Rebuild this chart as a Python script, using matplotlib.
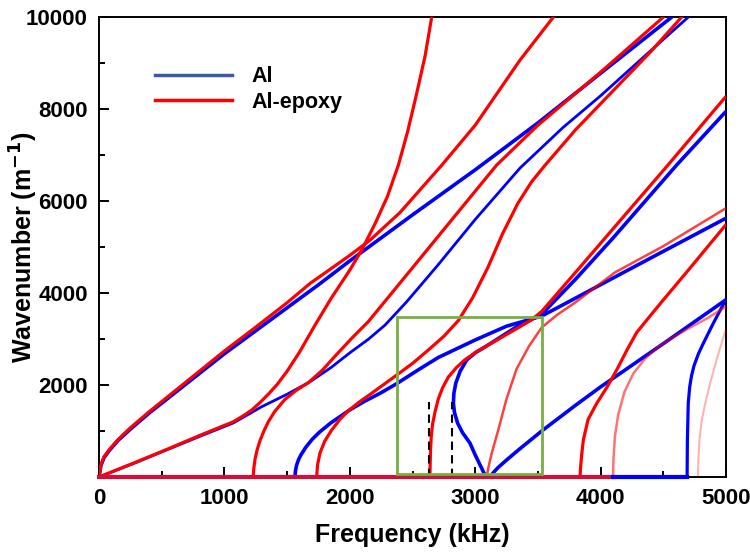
import matplotlib.pyplot as plt
from matplotlib.patches import Rectangle

# ---- data: (frequency kHz, wavenumber 1/m) ----
# Al (blue)
al_a0_f = [0, 15, 40, 80, 150, 250, 400, 600, 800, 1000, 1250, 1500, 1750, 2000, 2500, 3000, 3500, 4000, 4567]
al_a0_k = [0, 250, 420, 570, 790, 1040, 1390, 1820, 2250, 2680, 3180, 3680, 4180, 4700, 5700, 6680, 7700, 8780, 10000]

al_s0_f = [0, 300, 540, 800, 1070, 1297, 1500, 1683, 1850, 2000, 2150, 2281, 2450, 2700, 3000, 3357, 3700, 4000, 4350, 4699]
al_s0_k = [0, 320, 590, 880, 1174, 1528, 1800, 2072, 2380, 2700, 3000, 3304, 3800, 4600, 5600, 6717, 7600, 8290, 9150, 10000]

al_m2_f = [1563, 1566, 1575, 1590, 1610, 1650, 1700, 1760, 1850, 2000, 2120, 2241, 2374, 2540, 2706, 3000, 3250, 3530, 3800, 4115, 4500, 4997]
al_m2_k = [0, 120, 250, 370, 480, 650, 820, 980, 1180, 1460, 1650, 1820, 2030, 2320, 2600, 2980, 3280, 3500, 3890, 4350, 4907, 5624]

al_nose_f = [3085, 3050, 3000, 2958, 2900, 2860, 2835, 2826, 2830, 2845, 2880, 2932, 3000, 3091, 3200, 3331, 3430, 3530, 3800, 4100, 4606, 4997]
al_nose_k = [0, 200, 480, 739, 960, 1170, 1400, 1600, 1820, 2040, 2300, 2544, 2700, 2850, 3040, 3268, 3400, 3540, 4300, 5200, 6783, 7942]

al_m4_f = [3118, 3140, 3180, 3250, 3350, 3530, 3800, 4000, 4500, 4997]
al_m4_k = [0, 80, 200, 370, 600, 1000, 1560, 1960, 2900, 3850]

al_m5_f = [4690, 4692, 4699, 4710, 4725, 4745, 4780, 4819, 4900, 4997]
al_m5_k = [0, 800, 1602, 1950, 2200, 2420, 2680, 2907, 3350, 3848]

al_zero_f = [4099, 4690]
al_zero_k = [0, 0]

# Al-epoxy (red)
ep_a0_f = [0, 15, 40, 80, 150, 250, 400, 600, 800, 1000, 1250, 1500, 1683, 1850, 2000, 2161, 2400, 2733, 3000, 3357, 3623]
ep_a0_k = [0, 260, 440, 590, 810, 1070, 1420, 1860, 2300, 2740, 3260, 3790, 4210, 4530, 4820, 5150, 5750, 6780, 7650, 9065, 10000]

ep_s0_f = [0, 300, 540, 800, 1070, 1150, 1220, 1284, 1350, 1420, 1500, 1600, 1722, 1850, 2000, 2095, 2200, 2300, 2387, 2460, 2530, 2600, 2653]
ep_s0_k = [0, 330, 600, 900, 1200, 1330, 1460, 1620, 1800, 2010, 2300, 2720, 3300, 3880, 4500, 4935, 5500, 6100, 6780, 7500, 8300, 9150, 10000]

ep_m2_f = [1230, 1235, 1245, 1262, 1285, 1315, 1350, 1400, 1480, 1570, 1669, 1780, 1900, 2020, 2148, 2500, 2800, 3171, 3500, 4020, 4500]
ep_m2_k = [0, 200, 400, 600, 800, 1000, 1200, 1420, 1680, 1880, 2050, 2320, 2680, 3030, 3380, 4550, 5550, 6783, 7650, 8850, 10000]

ep_m3_f = [1736, 1742, 1762, 1800, 1855, 1920, 1988, 2080, 2174, 2374, 2500, 2626, 2750, 2865, 2980, 3100, 3220, 3340, 3450, 3557, 3800, 4100, 4400, 4646]
ep_m3_k = [0, 250, 520, 780, 1020, 1250, 1440, 1640, 1820, 2217, 2470, 2761, 3060, 3400, 3900, 4550, 5300, 5950, 6420, 6780, 7550, 8400, 9250, 10000]

ep_m4_f = [2639, 2641, 2644, 2650, 2660, 2680, 2706, 2740, 2785, 2850, 2918, 3020, 3131, 3250, 3357, 3450, 3530, 3800, 4100, 4537, 4997]
ep_m4_k = [0, 300, 600, 900, 1150, 1420, 1700, 1940, 2170, 2380, 2550, 2740, 2910, 3100, 3268, 3420, 3600, 4450, 5400, 6783, 8268]

ep_m5_f = [3091, 3105, 3130, 3184, 3250, 3330, 3430, 3530, 3650, 3800, 4115, 4500, 4997]
ep_m5_k = [0, 200, 500, 1022, 1700, 2350, 2850, 3250, 3520, 3800, 4450, 5020, 5841]

ep_m6_f = [3836, 3840, 3848, 3862, 3900, 3969, 4050, 4128, 4210, 4287, 4400, 4500, 4700, 4997]
ep_m6_k = [0, 200, 450, 800, 1250, 1602, 1950, 2326, 2760, 3140, 3520, 3850, 4500, 5480]

ep_m7_f = [4099, 4103, 4115, 4140, 4190, 4261, 4350, 4450, 4553, 4700, 4850, 4997]
ep_m7_k = [0, 400, 900, 1350, 1850, 2250, 2560, 2810, 3000, 3230, 3450, 3702]

ep_m8_f = [4776, 4780, 4790, 4805, 4830, 4870, 4930, 4997]
ep_m8_k = [0, 400, 850, 1200, 1550, 2000, 2600, 3196]

ep_zero_f = [0, 4099]
ep_zero_k = [0, 0]

# markers on the plot
cutoff_lines_f = [2631, 2818]
cutoff_lines_top = 1640
box_f = (2376, 3530)
box_k = (60, 3480)

# ---- style ----
BLUE = "#0000FF"
RED = "#FF0000"
plt.rcParams["font.family"] = ["Liberation Sans", "DejaVu Sans"]
plt.rcParams["font.weight"] = "bold"
plt.rcParams["mathtext.default"] = "bf"

fig = plt.figure(figsize=(7.5, 5.53), dpi=100)
ax = fig.add_axes([0.132, 0.1374, 0.836, 0.8316])

lw = 2.3
for f, k, w in [(al_a0_f, al_a0_k, 2.6), (al_s0_f, al_s0_k, 2.0), (al_m2_f, al_m2_k, 2.6),
                (al_nose_f, al_nose_k, 2.6), (al_m4_f, al_m4_k, 2.6), (al_m5_f, al_m5_k, 2.3)]:
    ax.plot(f, k, color=BLUE, lw=w, solid_capstyle="round", solid_joinstyle="round", zorder=3)

for f, k in [(ep_a0_f, ep_a0_k), (ep_s0_f, ep_s0_k), (ep_m2_f, ep_m2_k),
             (ep_m3_f, ep_m3_k), (ep_m4_f, ep_m4_k), (ep_m6_f, ep_m6_k)]:
    ax.plot(f, k, color=RED, lw=lw, solid_capstyle="round", solid_joinstyle="round", zorder=4)
ax.plot(ep_m5_f, ep_m5_k, color=RED, lw=1.8, alpha=0.75, solid_joinstyle="round", zorder=4)
ax.plot(ep_m7_f, ep_m7_k, color=RED, lw=1.8, alpha=0.55, solid_joinstyle="round", zorder=4)
ax.plot(ep_m8_f, ep_m8_k, color=RED, lw=1.5, alpha=0.3, solid_joinstyle="round", zorder=4)

# branches lying on k = 0
ax.plot(ep_zero_f, ep_zero_k, color="#D0103A", lw=3, clip_on=False, zorder=6)
ax.plot(al_zero_f, al_zero_k, color=BLUE, lw=3, clip_on=False, zorder=6)

for fc in cutoff_lines_f:
    ax.plot([fc, fc], [0, cutoff_lines_top], color="black", lw=1.5,
            ls=(0, (4, 2.5)), zorder=5)

ax.add_patch(Rectangle((box_f[0], box_k[0]), box_f[1] - box_f[0], box_k[1] - box_k[0],
                       fill=False, edgecolor="#76B043", lw=2, zorder=7))

# legend
h_al, = ax.plot([], [], color="#3A5BA8", lw=2.5, label="Al")
h_ep, = ax.plot([], [], color=RED, lw=2.5, label="Al-epoxy")
ax.legend(handles=[h_al, h_ep], loc="upper left", bbox_to_anchor=(0.058, 0.935),
          frameon=False, handlelength=3.6, handletextpad=0.9,
          labelspacing=0.2, prop={"weight": "bold", "size": 15.5})

ax.set_xlim(0, 5000)
ax.set_ylim(0, 10000)
ax.set_xticks([0, 1000, 2000, 3000, 4000, 5000])
ax.set_xticks([500, 1500, 2500, 3500, 4500], minor=True)
ax.set_yticks([2000, 4000, 6000, 8000, 10000])
ax.set_yticks([1000, 3000, 5000, 7000, 9000], minor=True)
ax.tick_params(which="both", direction="in", top=False, right=False,
               labelsize=16, width=1.4)
ax.tick_params(axis="x", which="major", length=7, pad=8)
ax.tick_params(axis="y", which="major", length=7, pad=8)
ax.tick_params(which="minor", length=4)
for lab in ax.get_xticklabels() + ax.get_yticklabels():
    lab.set_fontweight("bold")
for sp in ax.spines.values():
    sp.set_linewidth(1.4)

ax.set_xlabel("Frequency (kHz)", fontsize=18, fontweight="bold")
ax.set_ylabel(r"Wavenumber (m$^{-1}$)", fontsize=18, fontweight="bold")
ax.xaxis.set_label_coords(0.5, -0.1)
ax.yaxis.set_label_coords(-0.094, 0.5)

fig.savefig("out.png", dpi=100)
